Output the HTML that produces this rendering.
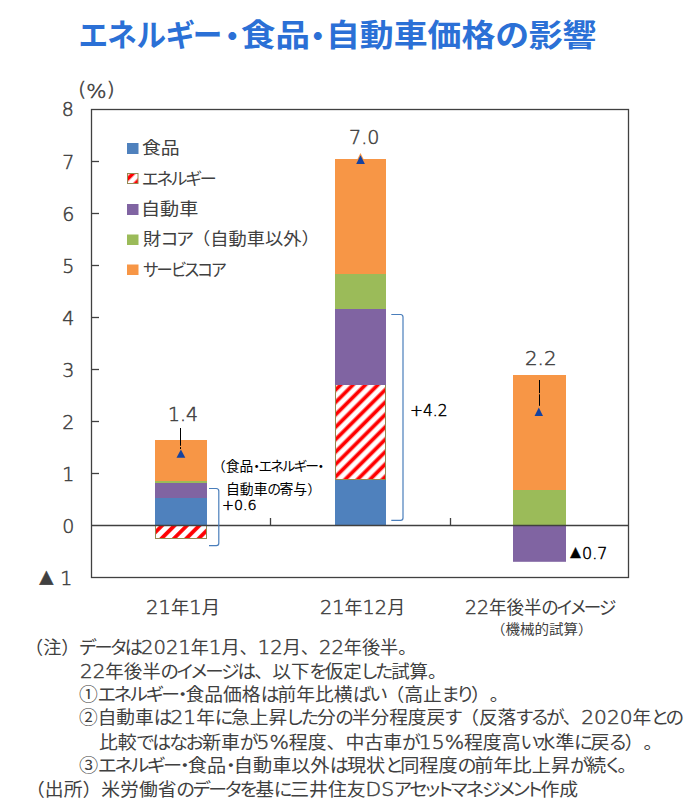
<!DOCTYPE html>
<html lang="ja">
<head>
<meta charset="utf-8">
<style>
html,body{margin:0;padding:0;background:#fff;}
#wrap{position:relative;width:689px;height:805px;overflow:hidden;background:#fff;
  font-family:"Liberation Sans","Noto Sans CJK JP",sans-serif;color:#404040;}
.t{position:absolute;white-space:nowrap;line-height:1;transform-origin:0 0;text-spacing-trim:space-all;}
.jp{font-family:"Liberation Sans","Noto Sans CJK JP",sans-serif;font-feature-settings:"palt";}
.lat{font-family:"DejaVu Sans",sans-serif;font-size:1.08em;font-weight:200;-webkit-text-stroke-width:0.5px;}
.fw{font-feature-settings:normal;}
.k{letter-spacing:-0.1em;}
.num{font-family:"DejaVu Sans","Noto Sans CJK JP",sans-serif;font-weight:200;-webkit-text-stroke-width:0.5px;}
svg{position:absolute;left:0;top:0;}
</style>
</head>
<body>
<div id="wrap">
<svg width="689" height="805" viewBox="0 0 689 805">
  <defs>
    <pattern id="h1" patternUnits="userSpaceOnUse" width="8.77" height="8.77" patternTransform="rotate(45)">
      <rect x="0" y="0" width="8.77" height="8.77" fill="#fff"/>
      <rect x="2.01" y="0" width="3.75" height="8.77" fill="#ff0000"/>
    </pattern>
    <pattern id="h2" patternUnits="userSpaceOnUse" width="8.77" height="8.77" patternTransform="rotate(45)">
      <rect x="0" y="0" width="8.77" height="8.77" fill="#fff"/>
      <rect x="2.44" y="0" width="3.75" height="8.77" fill="#ff0000"/>
    </pattern>
    <pattern id="hL" patternUnits="userSpaceOnUse" width="8.77" height="8.77" patternTransform="rotate(45)">
      <rect x="0" y="0" width="8.77" height="8.77" fill="#fff"/>
      <rect x="4.42" y="0" width="3.75" height="8.77" fill="#ff0000"/>
    </pattern>
  </defs>
  <!-- bar 1 -->
  <rect x="155" y="440" width="52" height="41" fill="#f79646"/>
  <rect x="155" y="481" width="52" height="2" fill="#9bbb59"/>
  <rect x="155" y="483" width="52" height="15" fill="#8064a2"/>
  <rect x="155" y="498" width="52" height="27.5" fill="#4f81bd"/>
  <rect x="155.5" y="525.5" width="51" height="13" fill="url(#h1)" stroke="#948a54" stroke-width="1"/>
  <!-- bar 2 -->
  <rect x="335" y="479.5" width="51" height="46" fill="#4f81bd"/>
  <rect x="335.5" y="384.5" width="50" height="95" fill="url(#h2)" stroke="#948a54" stroke-width="1"/>
  <rect x="335" y="159" width="51" height="115" fill="#f79646"/>
  <rect x="335" y="274" width="51" height="35" fill="#9bbb59"/>
  <rect x="335" y="309" width="51" height="76" fill="#8064a2"/>
  <!-- bar 3 -->
  <rect x="513" y="375" width="53" height="115" fill="#f79646"/>
  <rect x="513" y="490" width="53" height="35.5" fill="#9bbb59"/>
  <rect x="513" y="525.5" width="53" height="36.3" fill="#8064a2"/>
  <!-- frame -->
  <rect x="91.5" y="109.5" width="537" height="468" fill="none" stroke="#404040" stroke-width="1.3"/>
  <line x1="91.5" y1="525.5" x2="628.5" y2="525.5" stroke="#404040" stroke-width="1.3"/>
  <g stroke="#404040" stroke-width="1.3">
    <line x1="91.5" y1="161.5" x2="99" y2="161.5"/>
    <line x1="91.5" y1="213.5" x2="99" y2="213.5"/>
    <line x1="91.5" y1="265.5" x2="99" y2="265.5"/>
    <line x1="91.5" y1="317.5" x2="99" y2="317.5"/>
    <line x1="91.5" y1="369.5" x2="99" y2="369.5"/>
    <line x1="91.5" y1="421.5" x2="99" y2="421.5"/>
    <line x1="91.5" y1="473.5" x2="99" y2="473.5"/>
    <line x1="270.5" y1="518" x2="270.5" y2="525.5"/>
    <line x1="450.5" y1="518" x2="450.5" y2="525.5"/>
  </g>
  <!-- markers -->
  <g fill="#1442a0" stroke="#f79646" stroke-width="2" paint-order="stroke" stroke-linejoin="miter">
    <polygon points="180.9,449.4 176.5,457.8 185.3,457.8"/>
    <polygon points="360.5,155.3 356.2,164 364.9,164"/>
    <polygon points="538.8,407.4 534.6,416 543,416"/>
  </g>
  <g stroke="#000" stroke-width="1">
    <line x1="180.5" y1="428" x2="180.5" y2="445.8"/><line x1="180.5" y1="447.1" x2="180.5" y2="449"/>
    <line x1="539.5" y1="380" x2="539.5" y2="393.2"/><line x1="539.5" y1="394.3" x2="539.5" y2="405.8"/>
  </g>
  <!-- brackets -->
  <path d="M209,488.5 H216.3 Q218.8,488.7 218.8,491 V543.3 Q218.8,545.6 216.3,545.7 H209" fill="none" stroke="#4a7ebb" stroke-width="1.2"/>
  <path d="M391.3,314.5 H400.6 Q403,314.7 403,317 V518 Q403,520.3 400.6,520.4 H391.3" fill="none" stroke="#4a7ebb" stroke-width="1.2"/>
  <!-- legend swatches -->
  <rect x="127" y="143" width="11.5" height="11" fill="#4f81bd"/>
  <rect x="127.5" y="173.5" width="10.5" height="10" fill="url(#hL)" stroke="#948a54" stroke-width="1"/>
  <rect x="127" y="204" width="11.5" height="11" fill="#8064a2"/>
  <rect x="127" y="234.5" width="11.5" height="10.5" fill="#9bbb59"/>
  <rect x="127" y="264.5" width="11.5" height="10.5" fill="#f79646"/>
</svg>

<div class="t jp" id="tA" style="left:79.34px;top:19.70px;font-size:31px;font-weight:700;color:#2b70d6;transform:scaleX(0.9544);">エネルギー</div>
<div class="t jp" id="tB" style="left:224.60px;top:21.00px;font-size:31px;font-weight:700;color:#2b70d6;">・</div>
<div class="t jp" id="tC" style="left:241.28px;top:20.00px;font-size:31px;font-weight:700;color:#2b70d6;transform:scaleX(1.1127);">食品</div>
<div class="t jp" id="tD" style="left:309.90px;top:21.00px;font-size:31px;font-weight:700;color:#2b70d6;">・</div>
<div class="t jp" id="tE" style="left:325.57px;top:20.00px;font-size:31px;font-weight:700;color:#2b70d6;transform:scaleX(1.0925);">自動車価格の影響</div>
<div class="t num" id="pct" style="left:77.73px;top:80.30px;font-size:19px;transform:scaleX(1.1207);">(<span style="position:relative;top:1.5px">%</span>)</div>
<div class="t num" id="y8" style="left:61.80px;top:100.00px;font-size:19px;">8</div>
<div class="t num" id="y7" style="left:62.30px;top:152.60px;font-size:19px;">7</div>
<div class="t num" id="y6" style="left:62.30px;top:204.60px;font-size:19px;">6</div>
<div class="t num" id="y5" style="left:62.30px;top:256.60px;font-size:19px;">5</div>
<div class="t num" id="y4" style="left:62.30px;top:308.60px;font-size:19px;">4</div>
<div class="t num" id="y3" style="left:62.30px;top:360.60px;font-size:19px;">3</div>
<div class="t num" id="y2" style="left:62.30px;top:412.60px;font-size:19px;">2</div>
<div class="t num" id="y1" style="left:62.30px;top:464.60px;font-size:19px;">1</div>
<div class="t num" id="y0" style="left:62.30px;top:516.60px;font-size:19px;">0</div>
<div class="t num" id="ym" style="left:38.69px;top:571.20px;font-size:17px;transform:scaleX(0.8665);">▲</div>
<div class="t num" id="ym1" style="left:60.30px;top:568.80px;font-size:19px;">1</div>
<div class="t jp" id="lg1" style="left:142.43px;top:140.20px;font-size:17px;transform:scaleX(1.1091);">食品</div>
<div class="t jp" id="lg2" style="left:142.48px;top:171.30px;font-size:17px;transform:scaleX(1.0021);"><span class="k">エネルギー</span></div>
<div class="t jp" id="lg3" style="left:141.13px;top:201.40px;font-size:17px;transform:scaleX(1.1250);">自動車</div>
<div class="t jp" id="lg4" style="left:142.57px;top:231.30px;font-size:17px;transform:scaleX(1.0734);">財<span class="k">コア</span><span class="fw">（</span>自動車以外<span class="fw">）</span></div>
<div class="t jp" id="lg5" style="left:142.61px;top:261.80px;font-size:17px;transform:scaleX(0.9581);"><span class="k">サービスコア</span></div>
<div class="t num" id="d14" style="left:168.48px;top:405.00px;font-size:19px;transform:scaleX(0.9900);">1.4</div>
<div class="t num" id="d70" style="left:349.36px;top:128.20px;font-size:19px;transform:scaleX(1.0061);">7.0</div>
<div class="t num" id="d22" style="left:524.99px;top:348.60px;font-size:19px;transform:scaleX(1.0431);">2.2</div>
<div class="t num" id="d42" style="left:409.85px;top:403.30px;font-size:16px;color:#000;transform:scaleX(0.9646);">+4.2</div>
<div class="t jp" id="a1" style="left:212.03px;top:459.60px;font-size:13.5px;color:#000;transform:scaleX(1.0183);"><span class="fw">（</span>食品<span class="k">・エネルギー・</span></div>
<div class="t jp" id="a2" style="left:226.13px;top:482.80px;font-size:13.5px;color:#000;transform:scaleX(1.0256);">自動車<span class="k">の</span>寄与<span class="fw">）</span></div>
<div class="t num" id="d06" style="left:222.18px;top:497.80px;font-size:14.5px;color:#000;transform:scaleX(0.9830);">+0.6</div>
<div class="t num" id="d07a" style="left:570.00px;top:547.10px;font-size:13px;color:#000;transform:scaleX(0.8414);">▲</div>
<div class="t num" id="d07b" style="left:582.48px;top:546.60px;font-size:15px;color:#000;transform:scaleX(1.0653);">0.7</div>
<div class="t jp" id="c1" style="left:145.74px;top:598.00px;font-size:18px;transform:scaleX(1.0117);"><span class="lat">21</span>年<span class="lat">1</span>月</div>
<div class="t jp" id="c2" style="left:319.64px;top:597.50px;font-size:18px;transform:scaleX(0.9955);"><span class="lat">21</span>年<span class="lat">12</span>月</div>
<div class="t jp" id="c3" style="left:465.02px;top:598.00px;font-size:18px;transform:scaleX(0.9726);"><span class="lat">22</span>年後半<span class="k">のイメージ</span></div>
<div class="t jp" id="c4" style="left:490.86px;top:621.90px;font-size:14px;transform:scaleX(1.0365);"><span class="fw">（</span>機械的試算<span class="fw">）</span></div>
<div class="t jp" id="n1" style="left:25.41px;top:637.90px;font-size:18px;transform:scaleX(1.0076);"><span class="fw">（</span>注<span class="fw">）</span><span class="k">データは</span><span class="lat">2021</span>年<span class="lat">1</span>月<span class="fw">、</span><span class="lat">12</span>月<span class="fw">、</span><span class="lat">22</span>年後半<span class="fw">。</span></div>
<div class="t jp" id="n2" style="left:79.60px;top:661.80px;font-size:18px;transform:scaleX(1.0253);"><span class="lat">22</span>年後半<span class="k">のイメージは</span><span class="fw">、</span>以下<span class="k">を</span>仮定<span class="k">した</span>試算<span class="fw">。</span></div>
<div class="t jp" id="n3" style="left:79.26px;top:686.20px;font-size:18px;transform:scaleX(1.0430);">①<span class="k">エネルギー・</span>食品価格<span class="k">は</span>前年比横<span class="k">ばい</span><span class="fw">（</span>高止<span class="k">まり</span><span class="fw">）。</span></div>
<div class="t jp" id="n4" style="left:79.27px;top:708.40px;font-size:18px;transform:scaleX(1.0378);">②自動車<span class="k">は</span><span class="lat">21</span>年<span class="k">に</span>急上昇<span class="k">した</span>分<span class="k">の</span>半分程度戻<span class="k">す</span><span class="fw">（</span>反落<span class="k">するが</span><span class="fw">、</span><span class="lat">2020</span>年<span class="k">との</span></div>
<div class="t jp" id="n5" style="left:98.64px;top:732.50px;font-size:18px;transform:scaleX(1.0486);">比較<span class="k">ではなお</span>新車<span class="k">が</span><span class="lat">5%</span>程度<span class="fw">、</span>中古車<span class="k">が</span><span class="lat">15%</span>程度高<span class="k">い</span>水準<span class="k">に</span>戻<span class="k">る</span><span class="fw">）。</span></div>
<div class="t jp" id="n6" style="left:79.25px;top:756.50px;font-size:18px;transform:scaleX(1.0649);">③<span class="k">エネルギー・</span>食品<span class="k">・</span>自動車以外<span class="k">は</span>現状<span class="k">と</span>同程度<span class="k">の</span>前年比上昇<span class="k">が</span>続<span class="k">く</span><span class="fw">。</span></div>
<div class="t jp" id="n7" style="left:25.65px;top:780.00px;font-size:18px;transform:scaleX(1.0452);"><span class="fw">（</span>出所<span class="fw">）</span>米労働省<span class="k">のデータを</span>基<span class="k">に</span>三井住友<span class="lat">DS</span><span class="k">アセットマネジメント</span>作成</div>
</div>
</body>
</html>
